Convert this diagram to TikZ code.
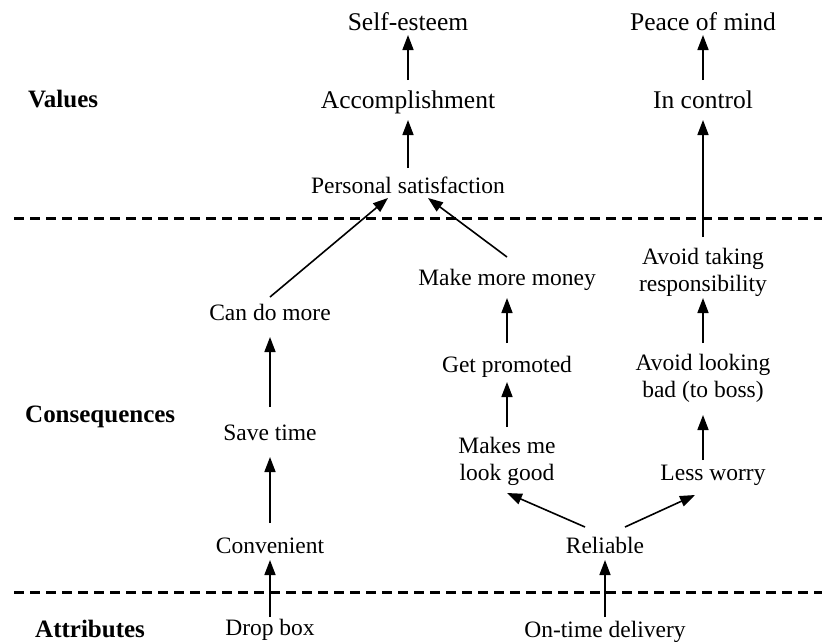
\documentclass[tikz,border=0pt]{standalone}
\usepackage{fontspec}
\setmainfont{Liberation Serif}
\usetikzlibrary{arrows.meta,calc}
\begin{document}
\begin{tikzpicture}[x=1pt,y=-1pt,
  big/.style={anchor=base,inner sep=0pt,font=\fontsize{25.5}{29}\selectfont},
  item/.style={anchor=base,inner sep=0pt,align=center,font=\fontsize{23.5}{27}\selectfont},
  level/.style={anchor=base west,inner sep=0pt,font=\fontsize{25}{29}\selectfont\bfseries},
  link/.style={-{Triangle[length=15pt,width=11pt]},line width=1.6pt},
  divider/.style={line width=3pt,dash pattern=on 10pt off 6pt}]
\useasboundingbox (0,0) rectangle (825,641);

% level labels
\node[level] (lv) at (28,107) {Values};
\node[level] (lc) at (25,422) {Consequences};
\node[level] (la) at (35,637) {Attributes};

% level dividers
\coordinate (d1a) at (14,218);  \coordinate (d1b) at (822,218);
\coordinate (d2a) at (14,592);  \coordinate (d2b) at (822,592);
\draw[divider] (d1a) -- (d1b);
\draw[divider] (d2a) -- (d2b);

% values
\node[big] (se)  at (408,30)  {Self-esteem};
\node[big] (acc) at (408,108) {Accomplishment};
\node[item] (ps) at (408,193) {Personal satisfaction};
\node[big] (pom) at (703,30)  {Peace of mind};
\node[big] (ic)  at (703,108) {In control};

% consequences (two-line nodes sit on the baseline of their last line)
\node[item] (cdm) at (270,320) {Can do more};
\node[item] (st)  at (270,440) {Save time};
\node[item] (conv) at (270,553) {Convenient};
\node[item] (mmm) at (507,285) {Make more money};
\node[item] (gp)  at (507,372) {Get promoted};
\node[item] (mlg) at (507,480) {Makes me\\look good};
\node[item] (atr) at (703,291) {Avoid taking\\responsibility};
\node[item] (alb) at (703,397) {Avoid looking\\bad (to boss)};
\node[item] (lw)  at (713,480) {Less worry};
\node[item] (rel) at (605,553) {Reliable};

% attributes
\node[item] (db)  at (270,635) {Drop box};
\node[item] (otd) at (605,637) {On-time delivery};

% links
\draw[link] ($(acc.base)+(0,-28)$) -- ($(se.base)+(0,5)$);
\draw[link] ($(ps.base)+(0,-25)$)  -- ($(acc.base)+(0,12)$);
\draw[link] ($(ic.base)+(0,-28)$)  -- ($(pom.base)+(0,5)$);
\draw[link] ($(atr.base)+(0,-54)$) -- ($(ic.base)+(0,12)$);
\draw[link] ($(cdm.base)+(0,-23)$) -- ($(ps.base)+(-20,5)$);
\draw[link] ($(mmm.base)+(0,-28)$) -- ($(ps.base)+(20,5)$);
\draw[link] ($(st.base)+(0,-33)$)  -- ($(cdm.base)+(0,17)$);
\draw[link] ($(gp.base)+(0,-29)$)  -- ($(mmm.base)+(0,13)$);
\draw[link] ($(alb.base)+(0,-54)$) -- ($(atr.base)+(0,7)$);
\draw[link] ($(mlg.base)+(0,-53)$) -- ($(gp.base)+(0,10)$);
\draw[link] ($(lw.base)+(-10,-20)$) -- ($(alb.base)+(0,18)$);
\draw[link] ($(rel.base)+(-20,-26)$) -- ($(mlg.base)+(0,13)$);
\draw[link] ($(rel.base)+(20,-26)$)  -- ($(lw.base)+(-18,15)$);
\draw[link] ($(conv.base)+(0,-30)$) -- ($(st.base)+(0,17)$);
\draw[link] ($(db.base)+(0,-18)$)   -- ($(conv.base)+(0,7)$);
\draw[link] ($(otd.base)+(0,-20)$)  -- ($(rel.base)+(0,7)$);
\end{tikzpicture}
\end{document}
